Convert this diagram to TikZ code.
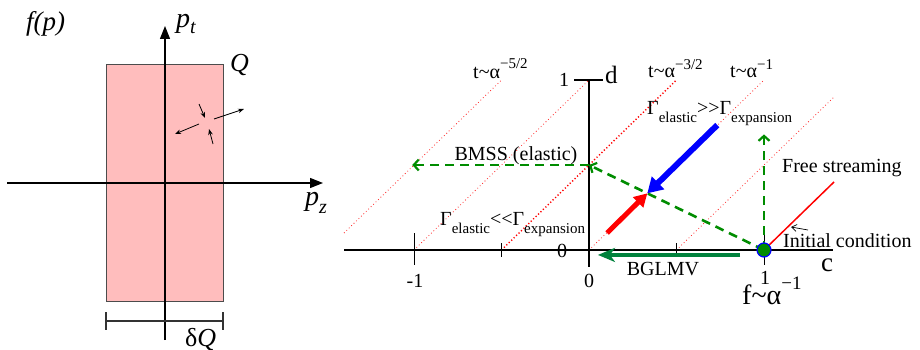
\documentclass[tikz,border=0pt]{standalone}
\usepackage{fontspec}
\setmainfont{Liberation Serif}
\usetikzlibrary{arrows.meta}
\definecolor{pinkfill}{RGB}{255,189,189}
\definecolor{dgreen}{RGB}{0,140,0}
\definecolor{bgreen}{RGB}{0,130,60}
\newcommand{\fsz}[1]{\fontsize{#1}{#1}\selectfont}
\begin{document}
\begin{tikzpicture}[x=1pt,y=-1pt,
  lbl/.style={inner sep=0pt, font=\fsz{20}},
  axarrow/.style={line width=1.2pt, -{Triangle[length=13pt,width=10pt]}},
  smallarrow/.style={line width=0.8pt, -{Stealth[length=6pt,width=4.5pt]}},
  axisline/.style={line width=1.3pt},
  tickline/.style={line width=1pt},
  dotlight/.style={red!85, line width=0.8pt, dash pattern=on 0.8pt off 2.6pt},
  dotdark/.style={red, line width=1.4pt, dash pattern=on 1.2pt off 2.2pt},
  gdash/.style={dgreen, line width=2.6pt, dash pattern=on 9pt off 6pt, -{Straight Barb[length=5pt,width=11pt,line width=2.2pt]}},
  bluearrow/.style={blue, line width=6pt, -{Triangle[length=15pt,width=17pt]}},
  redarrow/.style={red, line width=5pt, -{Triangle[length=13pt,width=14pt]}},
  bglarrow/.style={bgreen, line width=4pt, -{Stealth[length=17pt,width=14pt,inset=5pt]}},
]
\useasboundingbox (0,0) rectangle (920,350);

% ---------- left panel ----------
\node (rect) [draw=black!70, line width=1pt, fill=pinkfill, minimum width=117pt,
  minimum height=236pt, inner sep=0pt] at (164.5,183) {};
\coordinate (hl) at (7,183);
\coordinate (hr) at (323,183);
\coordinate (vb) at (165,340);
\coordinate (vt) at (165,26);
\draw[axarrow] (hl) -- (hr);
\draw[axarrow] (vb) -- (vt);

\coordinate (bl) at (106,321);
\coordinate (br) at (223,321);
\draw[line width=1.3pt, black!80] (bl) -- (br);
\draw[line width=1.3pt, black!80] ([yshift=9pt]bl) -- ([yshift=-9pt]bl);
\draw[line width=1.3pt, black!80] ([yshift=9pt]br) -- ([yshift=-9pt]br);

\coordinate (a1s) at (199,104); \coordinate (a1e) at (205,118);
\coordinate (a2s) at (213,144); \coordinate (a2e) at (209,129);
\coordinate (a3s) at (199,124); \coordinate (a3e) at (175,134);
\coordinate (a4s) at (214,119); \coordinate (a4e) at (244,109);
\draw[smallarrow] (a1s) -- (a1e);
\draw[smallarrow] (a2s) -- (a2e);
\draw[smallarrow] (a3s) -- (a3e);
\draw[smallarrow] (a4s) -- (a4e);

\node (fp) [inner sep=0pt, anchor=base west, font=\fsz{27}\itshape] at (26,31) {f(p)};
\node (pt) [inner sep=0pt, anchor=base west, font=\fsz{28}\itshape] at (176,28) {p\raisebox{-6pt}{\fsz{20}t}};
\node (pz) [inner sep=0pt, anchor=base west, font=\fsz{28}\itshape] at (305,205) {p\raisebox{-8pt}{\fsz{20}z}};
\node (Q) [inner sep=0pt, anchor=base west, font=\fsz{26}\itshape] at (230,72) {Q};
\node (dQ) [inner sep=0pt, anchor=base west, font=\fsz{26}] at (185,346) {δ\textit{Q}};

% ---------- right panel ----------
\begin{scope}[shift={(589pt,-250pt)}, x=175pt, y=170pt]
  % dotted lines t ~ alpha^...
  \draw[dotlight] (-1.4,0.1) -- (-0.5,1);
  \draw[dotlight] (-1,0) -- (0,1);
  \draw[dotdark] (-0.5,0) -- (0.5,1);
  \draw[dotlight] (0,0) -- (1,1);
  \draw[dotlight] (0.5,0) -- (1.4,0.9);
  % axes
  \coordinate (cl) at (-1.4,0);
  \coordinate (cr) at (1.397,0);
  \coordinate (dt) at (0,1);
  \coordinate (db) at (0,-0.1);
  \draw[axisline] (cl) -- (cr);
  \draw[axisline] (dt) -- (db);
  \draw[axisline] (-0.085,1) -- (0.08,1);
  \draw[tickline] (-1,0.1) -- (-1,-0.09);
  \draw[tickline] (-0.5,0.04) -- (-0.5,-0.04);
  \draw[tickline] (0.5,0.04) -- (0.5,-0.04);
  \draw[tickline] (1,0.1) -- (1,-0.09);
  % free streaming
  \coordinate (ini) at (1,0);
  \coordinate (fs) at (1.4,0.4);
  \draw[red, line width=1.5pt] (ini) -- (fs);
  % green dashed
  \coordinate (half) at (0,0.5);
  \coordinate (lft) at (-1.01,0.5);
  \coordinate (up) at (1,0.68);
  \draw[gdash] (ini) -- (half);
  \draw[gdash] (half) -- (lft);
  \draw[gdash] (ini) -- (up);
  % blue and red arrows
  \coordinate (bs) at (0.733,0.735);
  \coordinate (meet) at (0.3333,0.3333);
  \coordinate (rs) at (0.103,0.1);
  \draw[bluearrow] (bs) -- (meet);
  \draw[redarrow] (rs) -- (meet);
  % BGLMV
  \coordinate (bg1) at (0.863,-0.029);
  \coordinate (bg2) at (0.051,-0.029);
  \draw[bglarrow] (bg1) -- (bg2);
  % initial point
  \node (dot) [circle, fill=dgreen, draw=blue, line width=1.2pt, minimum size=14pt, inner sep=0pt] at (ini) {};
\end{scope}

\coordinate (icTail) at (808,230);
\coordinate (icTip) at (791,227);
\draw[line width=0.7pt, -{Straight Barb[length=5pt,width=7pt]}] (icTail) -- (icTip);

% labels
\node (t5) [lbl, anchor=base west] at (473,79) {t\textasciitilde α\raisebox{10pt}{\fsz{15}−5/2}};
\node (t3) [lbl, anchor=base west] at (648,78) {t\textasciitilde α\raisebox{9pt}{\fsz{15}−3/2}};
\node (t1) [lbl, anchor=base west] at (730,78) {t\textasciitilde α\raisebox{9pt}{\fsz{15}−1}};
\node (gg) [lbl, anchor=base west] at (647,115) {Γ\raisebox{-8pt}{\fsz{15}elastic}>\kern0pt>Γ\raisebox{-8pt}{\fsz{15}expansion}};
\node (gl) [lbl, anchor=base west] at (440,225) {Γ\raisebox{-8pt}{\fsz{15}elastic}<\kern0pt<Γ\raisebox{-8pt}{\fsz{15}expansion}};
\node (bmss) [lbl, anchor=base] at (516,160) {BMSS (elastic)};
\node (free) [lbl, anchor=base west] at (782,172) {Free streaming};
\node (initc) [lbl, anchor=base west] at (783,247) {Initial condition};
\node (bglmv) [lbl, anchor=base] at (663,275) {BGLMV};
\node (m1) [lbl, anchor=base] at (415,287) {-1};
\node (z0) [lbl, anchor=base] at (589,287) {0};
\node (z0b) [lbl, anchor=base] at (562,257) {0};
\node (one) [lbl, anchor=base] at (765,284) {1};
\node (onet) [lbl, anchor=base] at (564,87) {1};
\node (dl) [inner sep=0pt, anchor=base west, font=\fsz{25}] at (605,84) {d};
\node (cl2) [inner sep=0pt, anchor=base, font=\fsz{27}] at (827,271) {c};
\node (fa) [inner sep=0pt, anchor=base west, font=\fsz{28}] at (742,304) {f\textasciitilde α\raisebox{15pt}{\fsz{19}−1}};
\end{tikzpicture}
\end{document}
